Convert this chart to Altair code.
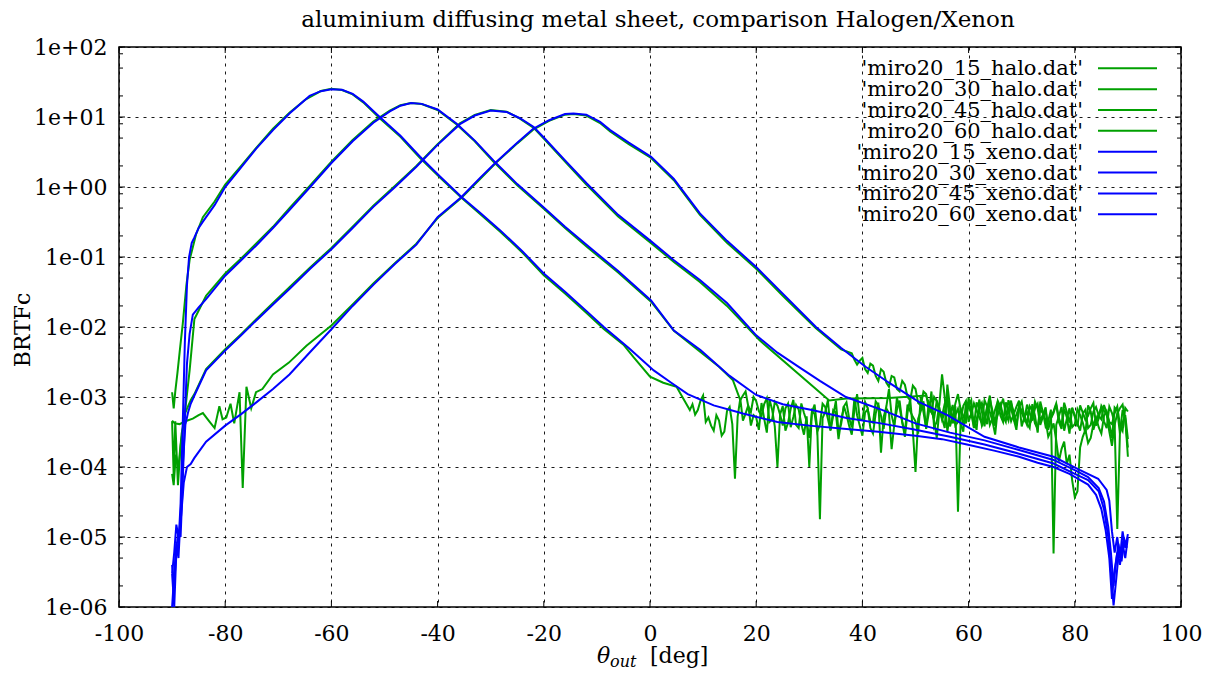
import json
import altair as alt
import pandas as pd

# ---------------- text / ticks ----------------
TITLE = "aluminium diffusing metal sheet, comparison Halogen/Xenon"
Y_TITLE = "BRTFc"
series_names = [
    "'miro20_15_halo.dat'", "'miro20_30_halo.dat'", "'miro20_45_halo.dat'", "'miro20_60_halo.dat'",
    "'miro20_15_xeno.dat'", "'miro20_30_xeno.dat'", "'miro20_45_xeno.dat'", "'miro20_60_xeno.dat'",
]
series_colors = ["#00a000"] * 4 + ["#0000ff"] * 4
x_ticks = [-100, -80, -60, -40, -20, 0, 20, 40, 60, 80, 100]
x_labels = ["-100", "-80", "-60", "-40", "-20", "0", "20", "40", "60", "80", "100"]
y_ticks = [1e-6, 1e-5, 1e-4, 1e-3, 1e-2, 1e-1, 1e0, 1e1, 1e2]
y_labels = ["1e-06", "1e-05", "1e-04", "1e-03", "1e-02", "1e-01", "1e+00", "1e+01", "1e+02"]
y_minor = [2e-6, 5e-6, 8e-6, 2e-5, 5e-5, 8e-5, 2e-4, 5e-4, 8e-4, 2e-3, 5e-3, 8e-3,
           2e-2, 5e-2, 8e-2, 0.2, 0.5, 0.8, 2, 5, 8, 20, 50, 80]

# ---------------- Xenon (blue) ----------------
x_xeno60 = [-90, -89.6, -89.2, -88.8, -88.4, -88.0, -87.6, -87.2, -86.8, -86.3,
            -85.8, -85.0, -84.2, -82, -80, -77, -74.2, -71, -67.9, -64.1,
            -62, -60, -58, -56, -54, -50.9, -47, -43.3, -39.5, -35.5,
            -32, -28.2, -24, -20, -16, -12, -8.7, -4, 0.7, 4,
            7.1, 12, 17.5, 24, 30, 37, 43, 50, 55, 59.7,
            65, 69.5, 73, 76, 79, 82.5, 84, 85, 85.8, 86.5,
            87, 87.4, 88, 88.5, 89, 89.5, 90]
v_xeno60 = [3e-6, 1e-6, 6e-6, 8e-6, 3e-5, 4e-4, 6e-3, 4e-2, 0.1, 0.16,
            0.19, 0.26, 0.32, 0.55, 1.0, 1.9, 3.5, 6.5, 11.2, 20,
            23.4, 25, 24.5, 21.4, 16.6, 10, 5.4, 2.7, 1.4, 0.72,
            0.43, 0.24, 0.12, 0.058, 0.032, 0.017, 0.01, 5e-3, 2.4e-3, 1.6e-3,
            1.1e-3, 7.6e-4, 5.8e-4, 4.4e-4, 3.9e-4, 3.5e-4, 3.2e-4, 2.8e-4, 2.5e-4, 2.1e-4,
            1.7e-4, 1.4e-4, 1.15e-4, 1e-4, 8e-5, 5.6e-5, 4e-5, 2.5e-5, 1.26e-5, 5e-6,
            1.3e-6, 3e-6, 6e-6, 4e-6, 8e-6, 5e-6, 1e-5]

x_xeno45 = [-90, -89.6, -89.2, -88.8, -88.4, -88.0, -87.6, -87.2, -86.7, -86.1,
            -85.0, -83.6, -80, -77, -74.2, -71, -67.9, -64, -60, -56,
            -52.1, -49, -47, -45, -43, -40, -36.4, -33, -29.5, -25,
            -20, -16, -11.9, -6, 0.2, 4.5, 9.5, 15, 20, 25,
            30.5, 37, 43.5, 50, 56.5, 63, 69.5, 76, 80, 82.5,
            84.5, 85.5, 86.3, 86.8, 87.3, 87.8, 88.3, 88.8, 89.3, 89.8]
v_xeno45 = [4e-6, 2e-6, 7e-6, 1.2e-5, 1e-5, 6e-5, 5e-4, 3e-3, 8e-3, 1.5e-2,
            1.9e-2, 2.5e-2, 5.4e-2, 0.09, 0.145, 0.26, 0.47, 1.0, 2.2, 4.5,
            8.3, 12, 14.5, 15.8, 15.4, 12.8, 8.0, 4.6, 2.4, 1.1,
            0.51, 0.27, 0.148, 0.063, 0.024, 8.9e-3, 4.7e-3, 2e-3, 1.07e-3, 7.9e-4,
            6.5e-4, 5e-4, 4.2e-4, 3.4e-4, 2.7e-4, 2.1e-4, 1.55e-4, 1.12e-4, 8e-5, 6.5e-5,
            4.5e-5, 2.5e-5, 1e-5, 3.2e-6, 1.05e-6, 2.5e-6, 6.3e-6, 4.5e-6, 9e-6, 8e-6]

x_xeno30 = [-90, -89.6, -89.2, -88.8, -88.4, -88.0, -87.5, -87.0, -86.5, -85.8,
            -83.6, -80, -77, -74.2, -71, -67.9, -64, -60, -56, -52.1,
            -48, -44, -40, -35.8, -33, -30, -27, -24.5, -21.9, -20,
            -16, -11.9, -6, 0.1, 4.5, 9.4, 14.5, 20, 24, 28,
            32, 36.9, 43.8, 50, 56.5, 63, 69.5, 76, 80, 82.5,
            84.5, 85.5, 86.3, 86.8, 87.3, 87.7, 88.2, 88.7, 89.2, 89.8]
v_xeno30 = [1e-6, 3e-6, 8e-6, 5e-6, 2e-5, 1e-4, 4e-4, 6e-4, 8e-4, 1.05e-3,
            2.4e-3, 4.6e-3, 7.6e-3, 0.0123, 0.021, 0.035, 0.068, 0.129, 0.26, 0.52,
            1.0, 1.95, 4.0, 7.9, 10.5, 12.4, 11.8, 9.6, 7.2, 5.1,
            2.4, 1.12, 0.4, 0.17, 0.09, 0.047, 0.022, 7.6e-3, 4.3e-3, 2.7e-3,
            1.7e-3, 1.0e-3, 6.5e-4, 4.2e-4, 3.1e-4, 2.4e-4, 1.75e-4, 1.26e-4, 9e-5, 7.2e-5,
            5e-5, 3.2e-5, 1.4e-5, 6e-6, 2e-6, 4e-6, 8e-6, 5e-6, 1e-5, 7e-6]

x_xeno15 = [-90, -89.6, -89.2, -88.8, -88.3, -87.8, -87.2, -86.5, -85.8, -83.6,
            -80, -77, -74.2, -71, -67.9, -64, -60, -56, -52.1, -48,
            -44, -40, -35.5, -32, -28.9, -25, -22, -19, -16, -14.4,
            -12, -9.4, -7.5, -4, 0.2, 4.5, 9.4, 14.5, 20, 25,
            31.25, 36, 40.6, 45, 50.6, 56, 63, 69.5, 76, 81,
            84.4, 86, 86.5, 87, 87.5, 88, 88.5, 89, 89.5, 90]
v_xeno15 = [3e-6, 6e-6, 1.5e-5, 1e-5, 2e-5, 6e-5, 1e-4, 1.1e-4, 1.35e-4, 2.3e-4,
            3.9e-4, 5.7e-4, 8.3e-4, 1.3e-3, 2.1e-3, 4.4e-3, 9.3e-3, 0.02, 0.04, 0.08,
            0.15, 0.37, 0.72, 1.35, 2.3, 4.3, 6.8, 9.0, 11.0, 11.2,
            10.8, 8.5, 6.5, 4.3, 2.7, 1.3, 0.42, 0.17, 0.072, 0.03,
            0.01, 5e-3, 2.7e-3, 1.6e-3, 8.5e-4, 5.5e-4, 2.7e-4, 1.9e-4, 1.4e-4, 9e-5,
            6.8e-5, 4.7e-5, 3.3e-5, 1.2e-5, 6e-6, 1e-5, 5e-6, 1.2e-5, 7e-6, 1.1e-5]

# ---------------- Halogen (green) ----------------
x_halo60 = [-90, -89.7, -89.4, -89.0, -88.5, -88.0, -87.3, -86.7, -85.5, -84.2,
            -82, -80, -77, -74.2, -71, -67.9, -65, -62, -60, -58,
            -56, -54, -50.9, -47, -43.3, -39.5, -35.5, -32, -28.2, -24,
            -20, -16, -12, -8.7, -5, -3.1, 0, 2.5, 5, 7.5,
            8, 9, 10, 11, 12, 13, 14, 15, 16, 17,
            18, 19, 20, 21, 22, 23, 24, 25, 26, 27,
            28, 29, 30, 31, 32, 33, 34, 35, 36, 37,
            38, 39, 40, 41, 42, 43, 44, 45, 46, 47,
            48, 49, 50, 51, 52, 53, 54, 55, 56, 57,
            58, 59, 60, 61, 62, 63, 64, 65, 66, 67,
            68, 69, 70, 71, 72, 73, 74, 75, 76, 77,
            78, 79, 80, 81, 82, 83, 84, 85, 86, 87,
            88, 89, 90]
v_halo60 = [1.17e-3, 6.9e-4, 1.2e-3, 2.2e-3, 5e-3, 0.011, 0.04, 0.091, 0.21, 0.37,
            0.62, 1.08, 2.0, 3.6, 6.8, 11.5, 17.5, 23.5, 25.3, 24.3,
            21, 16.2, 9.6, 5.2, 2.6, 1.35, 0.7, 0.41, 0.23, 0.115,
            0.055, 0.03, 0.016, 9.4e-3, 5.6e-3, 3.7e-3, 1.95e-3, 1.6e-3, 1.4e-3, 6.5e-4,
            7.9e-4, 6.5e-4, 1.05e-3, 5.1e-4, 3.3e-4, 4.6e-4, 3.2e-4, 7.2e-4, 6.8e-5, 9.5e-4,
            5.8e-4, 3.9e-4, 5.1e-4, 8.2e-4, 3.1e-4, 6.6e-4, 1.0e-4, 7.4e-4, 4.3e-4, 9.1e-4,
            3.6e-4, 5.9e-4, 2.6e-4, 7.8e-4, 1.8e-5, 6.1e-4, 3.4e-4, 8.8e-4, 4.1e-4, 5.6e-4,
            2.9e-4, 1.1e-3, 4.7e-4, 6.9e-4, 3.0e-4, 8.3e-4, 5.2e-4, 1.3e-3, 3.8e-4, 7.1e-4,
            2.7e-4, 9.4e-4, 8.5e-5, 6.3e-4, 3.5e-4, 1.2e-3, 4.4e-4, 2.1e-3, 3.2e-4, 7.7e-4,
            4.4e-4, 5.4e-4, 9.8e-4, 3.7e-4, 6.8e-4, 4.9e-4, 1.05e-3, 3.9e-4, 7.3e-4, 5.0e-4,
            8.9e-4, 3.4e-4, 6.4e-4, 4.2e-4, 7.9e-4, 3.1e-4, 6.0e-4, 4.5e-4, 5.8e-6, 5.3e-4,
            3.3e-4, 6.9e-4, 4.1e-4, 5.5e-4, 3.0e-4, 6.2e-4, 4.6e-4, 7.0e-4, 3.6e-4, 5.9e-4,
            1.3e-5, 6.5e-4, 1.4e-4]
# in-between (half-degree) samples of the noisy tail
xh_halo60 = [8.5, 9.5, 10.5, 11.5, 12.5, 13.5, 14.5, 15.5, 16.5, 17.5,
             18.5, 19.5, 20.5, 21.5, 22.5, 23.5, 24.5, 25.5, 26.5, 27.5,
             28.5, 29.5, 30.5, 31.5, 32.5, 33.5, 34.5, 35.5, 36.5, 37.5,
             38.5, 39.5, 40.5, 41.5, 42.5, 43.5, 44.5, 45.5, 46.5, 47.5,
             48.5, 49.5, 50.5, 51.5, 52.5, 53.5, 54.5, 55.5, 56.5, 57.5,
             58.5, 59.5, 60.5, 61.5, 62.5, 63.5, 64.5, 65.5, 66.5, 67.5,
             68.5, 69.5, 70.5, 71.5, 72.5, 73.5, 74.5, 75.5, 76.5, 77.5,
             78.5, 79.5, 80.5, 81.5, 82.5, 83.5, 84.5, 85.5, 86.5, 87.5,
             88.5, 89.5]
vh_halo60 = [5.6e-4, 8.8e-4, 4.4e-4, 3.9e-4, 5.5e-4, 2.8e-4, 6.3e-4, 4.1e-4, 5.2e-4, 4.6e-4,
             7.6e-4, 5.5e-4, 3.4e-4, 4.9e-4, 9.3e-4, 3.8e-4, 5.7e-4, 3.3e-4, 6.8e-4, 4.0e-4,
             8.1e-4, 4.5e-4, 6.1e-4, 3.5e-4, 5.0e-4, 9.0e-4, 5.4e-4, 3.2e-4, 7.4e-4, 3.9e-4,
             6.6e-4, 4.8e-4, 8.5e-4, 3.6e-4, 5.8e-4, 1.6e-4, 7.2e-4, 5.5e-4, 9.7e-4, 4.4e-4,
             6.0e-4, 3.3e-4, 4.9e-4, 8.7e-4, 5.9e-4, 3.7e-4, 7.9e-4, 1.0e-3, 5.6e-4, 3.9e-4,
             6.9e-4, 4.2e-4, 5.7e-4, 8.4e-4, 3.9e-4, 7.0e-4, 5.1e-4, 8.8e-4, 4.6e-4, 6.5e-4,
             4.8e-4, 7.5e-4, 5.6e-4, 3.6e-4, 5.4e-4, 8.6e-4, 3.8e-4, 6.6e-4, 4.0e-4, 7.2e-4,
             4.9e-4, 3.7e-4, 6.7e-4, 4.3e-4, 7.6e-4, 3.4e-4, 5.7e-4, 4.5e-4, 7.3e-4, 4.2e-4,
             3.1e-4, 5.0e-4]

x_halo45 = [-90, -89.7, -89.4, -88.9, -88.4, -87.7, -86.7, -85.8, -83.6, -80,
            -77, -74.2, -71, -67.9, -64, -60, -56, -52.1, -49, -47,
            -45, -43, -40, -36.4, -33, -29.5, -25, -20, -16, -11.9,
            -6, 0.2, 4.5, 9.5, 13, 15.6,
            17, 18, 19, 20, 21, 22, 23, 24, 25, 26,
            27, 28, 29, 30, 31, 32, 33, 34, 35, 36,
            37, 38, 39, 40, 41, 42, 43, 44, 45, 46,
            47, 48, 49, 50, 51, 52, 53, 54, 55, 56,
            57, 58, 59, 60, 61, 62, 63, 64, 65, 66,
            67, 68, 69, 70, 71, 72, 73, 74, 75, 76,
            77, 78, 79, 80, 81, 82, 83, 84, 85, 86,
            87, 88, 89, 90]
v_halo45 = [4.5e-4, 7.4e-5, 4.5e-4, 5.5e-5, 2e-4, 5e-4, 2.4e-3, 1.3e-2, 2.8e-2, 5.8e-2,
            0.095, 0.155, 0.27, 0.5, 1.05, 2.3, 4.7, 8.6, 12.3, 14.7,
            15.9, 15.3, 12.6, 7.8, 4.5, 2.3, 1.06, 0.49, 0.26, 0.14,
            0.06, 0.023, 8.8e-3, 4.4e-3, 2.7e-3, 1.75e-3,
            9e-4, 1.2e-3, 6.1e-4, 8.7e-4, 5.4e-4, 9.6e-4, 4.8e-4, 7.5e-4, 3.9e-4, 8.1e-4,
            5.2e-4, 6.6e-4, 2.9e-4, 1.0e-4, 5.7e-4, 4.0e-4, 7.2e-4, 3.3e-4, 6.0e-4, 4.6e-4,
            8.4e-4, 3.7e-4, 5.5e-4, 2.8e-4, 6.7e-4, 4.3e-4, 7.6e-4, 3.5e-4, 5.9e-4, 4.0e-4,
            8.9e-4, 3.1e-4, 6.3e-4, 4.5e-4, 9.9e-4, 3.6e-4, 7.0e-4, 2.6e-4, 5.0e-4, 1.5e-3,
            4.2e-4, 6.8e-4, 3.2e-4, 7.9e-4, 4.7e-4, 9.2e-4, 3.8e-4, 6.1e-4, 2.9e-4, 8.0e-4,
            4.4e-4, 6.9e-4, 5.6e-4, 8.6e-4, 4.0e-4, 6.4e-4, 3.5e-4, 5.8e-4, 2.7e-4, 4.2e-4,
            1.2e-4, 2.3e-4, 1.5e-4, 3.7e-5, 1.9e-4, 3.4e-4, 2.6e-4, 5.1e-4, 3.0e-4, 6.3e-4,
            4.1e-4, 7.3e-4, 3.3e-4, 6.2e-4]
xh_halo45 = [17.5, 18.5, 19.5, 20.5, 21.5, 22.5, 23.5, 24.5, 25.5, 26.5,
             27.5, 28.5, 29.5, 30.5, 31.5, 32.5, 33.5, 34.5, 35.5, 36.5,
             37.5, 38.5, 39.5, 40.5, 41.5, 42.5, 43.5, 44.5, 45.5, 46.5,
             47.5, 48.5, 49.5, 50.5, 51.5, 52.5, 53.5, 54.5, 55.5, 56.5,
             57.5, 58.5, 59.5, 60.5, 61.5, 62.5, 63.5, 64.5, 65.5, 66.5,
             67.5, 68.5, 69.5, 70.5, 71.5, 72.5, 73.5, 74.5, 75.5, 76.5,
             77.5, 78.5, 79.5, 80.5, 81.5, 82.5, 83.5, 84.5, 85.5, 86.5,
             87.5, 88.5, 89.5]
vh_halo45 = [1.05e-3, 7.4e-4, 1.0e-3, 6.3e-4, 7.9e-4, 4.4e-4, 8.5e-4, 5.6e-4, 6.9e-4, 3.7e-4,
             7.7e-4, 4.1e-4, 5.3e-4, 6.4e-4, 3.2e-4, 8.0e-4, 4.9e-4, 6.5e-4, 2.5e-4, 7.3e-4,
             5.0e-4, 9.6e-4, 3.9e-4, 6.0e-4, 4.5e-4, 8.7e-4, 5.4e-4, 6.9e-4, 1.8e-4, 6.6e-4,
             4.4e-4, 7.8e-4, 5.2e-4, 3.0e-4, 6.1e-4, 8.3e-4, 4.6e-4, 6.4e-4, 3.6e-4, 7.1e-4,
             5.5e-4, 4.1e-4, 8.5e-4, 5.8e-4, 3.4e-4, 6.2e-4, 7.7e-4, 4.5e-4, 6.8e-4, 5.3e-4,
             9.0e-4, 4.8e-4, 7.2e-4, 5.0e-4, 7.4e-4, 4.2e-4, 6.7e-4, 4.7e-4, 3.3e-4, 2.4e-4,
             1.8e-4, 1.1e-4, 6.5e-5, 4.5e-5, 2.7e-4, 2.2e-4, 4.1e-4, 3.7e-4, 5.4e-4, 4.4e-4,
             5.9e-4, 4.0e-4, 7.0e-4]

x_halo30 = [-90, -89.7, -89.3, -88.8, -88.2, -87.5, -86.5, -85.8, -83.6, -80,
            -77, -74.2, -71, -67.9, -64, -60, -56, -52.1, -48, -44,
            -40, -35.8, -33, -30, -27, -24.5, -21.9, -20, -16, -11.9,
            -6, 0.1, 4.5, 9.4, 14.5, 20.6, 33.75, 37, 45, 52,
            53, 54, 55, 56, 57, 58, 59, 60, 61, 62,
            63, 64, 65, 66, 67, 68, 69, 70, 71, 72,
            73, 74, 75, 76, 77, 78, 79, 80, 81, 82,
            83, 84, 85, 86, 87, 88, 89, 90]
v_halo30 = [8e-5, 5.5e-5, 1.5e-4, 1e-4, 3e-4, 6e-4, 9e-4, 1.1e-3, 2.5e-3, 4.8e-3,
            7.9e-3, 0.0128, 0.022, 0.037, 0.071, 0.135, 0.27, 0.54, 1.04, 2.0,
            4.1, 8.1, 10.7, 12.6, 11.9, 9.5, 7.0, 4.9, 2.3, 1.07,
            0.38, 0.16, 0.085, 0.044, 0.02, 6.5e-3, 8.9e-4, 9.5e-4, 9.7e-4, 1.05e-3,
            6.2e-4, 8.8e-4, 4.7e-4, 9.1e-4, 5.3e-4, 1.1e-3, 4.1e-4, 7.4e-4, 3.6e-4, 6.7e-4,
            5.5e-4, 9.4e-4, 4.3e-4, 7.1e-4, 5.8e-4, 8.3e-4, 3.9e-4, 6.0e-4, 7.8e-4, 4.6e-4,
            6.9e-4, 5.2e-4, 3.7e-4, 5.9e-4, 4.4e-4, 6.8e-4, 3.0e-4, 5.4e-4, 3.3e-4, 6.6e-4,
            4.0e-4, 7.2e-4, 4.8e-4, 5.9e-4, 2.6e-4, 6.4e-4, 4.3e-4, 2.5e-4]
xh_halo30 = [52.5, 53.5, 54.5, 55.5, 56.5, 57.5, 58.5, 59.5, 60.5, 61.5,
             62.5, 63.5, 64.5, 65.5, 66.5, 67.5, 68.5, 69.5, 70.5, 71.5,
             72.5, 73.5, 74.5, 75.5, 76.5, 77.5, 78.5, 79.5, 80.5, 81.5,
             82.5, 83.5, 84.5, 85.5, 86.5, 87.5, 88.5, 89.5]
vh_halo30 = [8.1e-4, 4.9e-4, 7.0e-4, 6.0e-4, 3.8e-4, 8.0e-4, 6.5e-4, 5.3e-4, 9.0e-4, 4.8e-4,
             8.2e-4, 4.1e-4, 6.3e-4, 5.6e-4, 9.5e-4, 4.6e-4, 6.1e-4, 7.3e-4, 4.8e-4, 5.9e-4,
             8.6e-4, 4.0e-4, 6.4e-4, 4.9e-4, 7.8e-4, 3.5e-4, 5.1e-4, 7.0e-4, 4.2e-4, 5.8e-4,
             3.6e-4, 6.2e-4, 5.4e-4, 7.7e-4, 4.2e-4, 7.1e-4, 3.0e-4, 5.5e-4]

x_halo15 = [-90, -89.5, -88.6, -87.5, -86.1, -85, -84.2, -83, -82, -81.1,
            -80.5, -79.8, -79, -78.3, -77.3, -76.7, -76, -75.1, -74.2, -73,
            -71, -68, -64.7, -60, -56, -52.1, -48, -44, -40, -35.5,
            -32, -28.9, -25, -22, -19, -16, -14.4, -12, -9.4, -7.5,
            -4, 0.2, 4.5, 9.4, 14.5, 20, 25, 31.25, 36, 38,
            39, 40, 41, 42, 43, 44, 45, 46, 47, 48,
            49, 50, 51, 52, 53, 54, 55, 56, 57, 58,
            59, 60, 61, 62, 63, 64, 65, 66, 67, 68,
            69, 70, 71, 72, 73, 74, 75, 76, 77, 78,
            79, 80, 81, 82, 83, 84, 85, 86, 87, 88,
            89, 90]
v_halo15 = [4.6e-4, 4.2e-4, 4.1e-4, 4.5e-4, 4.9e-4, 5.5e-4, 5.9e-4, 4.5e-4, 3.6e-4, 7.4e-4,
            4.8e-4, 5.1e-4, 8e-4, 4.2e-4, 1.17e-3, 5e-5, 1.4e-3, 6.9e-4, 1.17e-3, 1.3e-3,
            2.1e-3, 3.1e-3, 5.4e-3, 0.0105, 0.021, 0.042, 0.082, 0.155, 0.36, 0.7,
            1.3, 2.25, 4.2, 6.6, 8.8, 10.8, 11.0, 10.5, 8.2, 6.2,
            4.1, 2.6, 1.25, 0.4, 0.16, 0.068, 0.028, 9.6e-3, 4.8e-3, 4.2e-3,
            2.9e-3, 3.6e-3, 2.2e-3, 2.8e-3, 1.7e-3, 2.3e-3, 1.4e-3, 1.9e-3, 1.2e-3, 1.5e-3,
            9.0e-4, 1.3e-3, 7.6e-4, 1.1e-3, 6.0e-4, 8.7e-4, 5.3e-4, 9.6e-4, 4.8e-4, 2.3e-5,
            7.5e-4, 4.4e-4, 8.1e-4, 5.1e-4, 9.0e-4, 4.0e-4, 6.6e-4, 5.4e-4, 8.4e-4, 4.5e-4,
            7.2e-4, 3.8e-4, 6.1e-4, 4.9e-4, 8.0e-4, 5.6e-4, 3.4e-4, 6.3e-4, 5.0e-4, 8.3e-4,
            4.3e-4, 5.2e-4, 7.6e-4, 4.7e-4, 6.9e-4, 3.9e-4, 7.5e-4, 5.6e-4, 2.0e-4, 5.8e-4,
            7.8e-4, 1.9e-4]
xh_halo15 = [38.5, 39.5, 40.5, 41.5, 42.5, 43.5, 44.5, 45.5, 46.5, 47.5,
             48.5, 49.5, 50.5, 51.5, 52.5, 53.5, 54.5, 55.5, 56.5, 57.5,
             58.5, 59.5, 60.5, 61.5, 62.5, 63.5, 64.5, 65.5, 66.5, 67.5,
             68.5, 69.5, 70.5, 71.5, 72.5, 73.5, 74.5, 75.5, 76.5, 77.5,
             78.5, 79.5, 80.5, 81.5, 82.5, 83.5, 84.5, 85.5, 86.5, 87.5,
             88.5, 89.5]
vh_halo15 = [3.4e-3, 3.3e-3, 2.5e-3, 3.0e-3, 2.0e-3, 2.5e-3, 1.6e-3, 2.0e-3, 1.3e-3, 1.7e-3,
             1.0e-3, 1.45e-3, 8.2e-4, 1.2e-3, 6.8e-4, 1.0e-3, 5.9e-4, 8.0e-4, 6.2e-4, 7.4e-4,
             4.6e-4, 8.8e-4, 5.8e-4, 6.4e-4, 4.2e-4, 7.3e-4, 5.0e-4, 8.7e-4, 4.4e-4, 6.3e-4,
             5.7e-4, 8.9e-4, 5.2e-4, 4.1e-4, 6.8e-4, 4.6e-4, 7.1e-4, 5.0e-4, 8.1e-4, 3.9e-4,
             6.1e-4, 7.0e-4, 3.8e-4, 6.0e-4, 5.4e-4, 8.2e-4, 4.9e-4, 6.4e-4, 3.2e-4, 4.0e-4,
             6.9e-4, 4.6e-4]


# ---------------- tables ----------------
def table(names, parts):
    rows = []
    for name, pieces in zip(names, parts):
        pts = []
        for xs, vs in pieces:
            assert len(xs) == len(vs), name
            pts.extend(zip(xs, vs))
        pts.sort(key=lambda p: p[0])
        for i, (x, v) in enumerate(pts):
            rows.append({"series": name, "x": x, "v": v, "order": i})
    return pd.DataFrame(rows)


halo_df = table(series_names[:4], [
    [(x_halo15, v_halo15), (xh_halo15, vh_halo15)],
    [(x_halo30, v_halo30), (xh_halo30, vh_halo30)],
    [(x_halo45, v_halo45), (xh_halo45, vh_halo45)],
    [(x_halo60, v_halo60), (xh_halo60, vh_halo60)],
])
xeno_df = table(series_names[4:], [
    [(x_xeno15, v_xeno15)], [(x_xeno30, v_xeno30)],
    [(x_xeno45, v_xeno45)], [(x_xeno60, v_xeno60)],
])

W, H = 1062, 560
FONT = "DejaVu Serif"
xscale = alt.Scale(domain=[-100, 100], nice=False, zero=False)
yscale = alt.Scale(type="log", domain=[1e-6, 1e2], nice=False)
cscale = alt.Scale(domain=series_names, range=series_colors)

x_label_expr = f"{json.dumps(x_labels)}[round((datum.value + 100) / 20)]"
y_label_expr = f"{json.dumps(y_labels)}[round(log(datum.value) / LN10) + 6]"

x_axis = alt.Axis(values=x_ticks, labelExpr=x_label_expr, title=None, grid=True,
                  ticks=False, tickSize=0, domain=False, labelPadding=16, labelFlush=False,
                  labelFont=FONT, labelFontSize=22, labelColor="black",
                  gridColor="black", gridDash=[3, 5], gridWidth=1, gridOpacity=0.9)
y_axis = alt.Axis(values=y_ticks, labelExpr=y_label_expr, title=None, grid=True,
                  ticks=False, tickSize=0, domain=False, labelPadding=12, labelFlush=False,
                  labelFont=FONT, labelFontSize=22, labelColor="black",
                  gridColor="black", gridDash=[3, 5], gridWidth=1, gridOpacity=0.9)
X = alt.X("x:Q", scale=xscale, axis=x_axis)


def curves(df, with_y_axis):
    return alt.Chart(df).mark_line(strokeWidth=2, clip=True).encode(
        x=X,
        y=alt.Y("v:Q", scale=yscale, axis=y_axis if with_y_axis else None),
        color=alt.Color("series:N", scale=cscale, legend=None),
        order=alt.Order("order:Q"),
    )


halo_layer = curves(halo_df, True)
xeno_layer = curves(xeno_df, False)

# inward ticks (gnuplot style)
xt = pd.DataFrame({"x": x_ticks})
ytm = pd.DataFrame({"t": y_ticks})
ytn = pd.DataFrame({"t": y_minor})
tick_style = dict(color="black", strokeWidth=1)
xt_bottom = alt.Chart(xt).mark_rule(**tick_style).encode(
    x=X, y=alt.value(H), y2=alt.value(H - 6))
xt_top = alt.Chart(xt).mark_rule(**tick_style).encode(
    x=X, y=alt.value(0), y2=alt.value(6))
yt_left = alt.Chart(ytm).mark_rule(**tick_style).encode(
    y=alt.Y("t:Q", scale=yscale, axis=None), x=alt.value(0), x2=alt.value(6))
yt_right = alt.Chart(ytm).mark_rule(**tick_style).encode(
    y=alt.Y("t:Q", scale=yscale, axis=None), x=alt.value(W), x2=alt.value(W - 6))
yn_left = alt.Chart(ytn).mark_rule(**tick_style).encode(
    y=alt.Y("t:Q", scale=yscale, axis=None), x=alt.value(0), x2=alt.value(4))
yn_right = alt.Chart(ytn).mark_rule(**tick_style).encode(
    y=alt.Y("t:Q", scale=yscale, axis=None), x=alt.value(W), x2=alt.value(W - 4))

# key (gnuplot style: label right-aligned, sample line on the right)
leg = pd.DataFrame({"name": series_names, "row": list(range(len(series_names)))})
leg_y = alt.Y("row:Q", scale=alt.Scale(domain=[0, 7], range=[21.3, 167.3]), axis=None)
leg_text = alt.Chart(leg).mark_text(align="right", baseline="alphabetic", dy=7,
                                    font=FONT, fontSize=21, color="black").encode(
    x=alt.value(964), y=leg_y, text="name:N")
leg_line = alt.Chart(leg).mark_rule(strokeWidth=2).encode(
    x=alt.value(979), x2=alt.value(1038), y=leg_y,
    color=alt.Color("name:N", scale=cscale, legend=None))

one = pd.DataFrame({"k": [0]})
title_mark = alt.Chart(one).mark_text(text=TITLE, font=FONT, fontSize=23, align="center",
                                      baseline="alphabetic", color="black").encode(
    x=alt.value(539), y=alt.value(-20))
ytitle_mark = alt.Chart(one).mark_text(text=Y_TITLE, font=FONT, fontSize=22, angle=270,
                                       align="center", baseline="middle", color="black").encode(
    x=alt.value(-96), y=alt.value(283))
xt_theta = alt.Chart(one).mark_text(text="θ", font=FONT, fontSize=22, fontStyle="italic",
                                    align="left", baseline="alphabetic", color="black").encode(
    x=alt.value(478), y=alt.value(616))
xt_sub = alt.Chart(one).mark_text(text="out", font=FONT, fontSize=16, fontStyle="italic",
                                  align="left", baseline="alphabetic", color="black").encode(
    x=alt.value(491), y=alt.value(620))
xt_unit = alt.Chart(one).mark_text(text="[deg]", font=FONT, fontSize=22,
                                   align="left", baseline="alphabetic", color="black").encode(
    x=alt.value(531), y=alt.value(616))

chart = alt.layer(
    halo_layer, xeno_layer,
    xt_bottom, xt_top, yt_left, yt_right, yn_left, yn_right,
    leg_line, leg_text,
    title_mark, ytitle_mark, xt_theta, xt_sub, xt_unit,
).resolve_scale(y="independent").properties(
    width=W, height=H,
    autosize=alt.AutoSizeParams(type="none"),
    padding={"left": 111, "top": 39, "right": 26, "bottom": 63},
).configure_view(stroke="black", strokeWidth=1.5)

chart.save("out.html", embed_options={"renderer": "svg", "actions": False})
